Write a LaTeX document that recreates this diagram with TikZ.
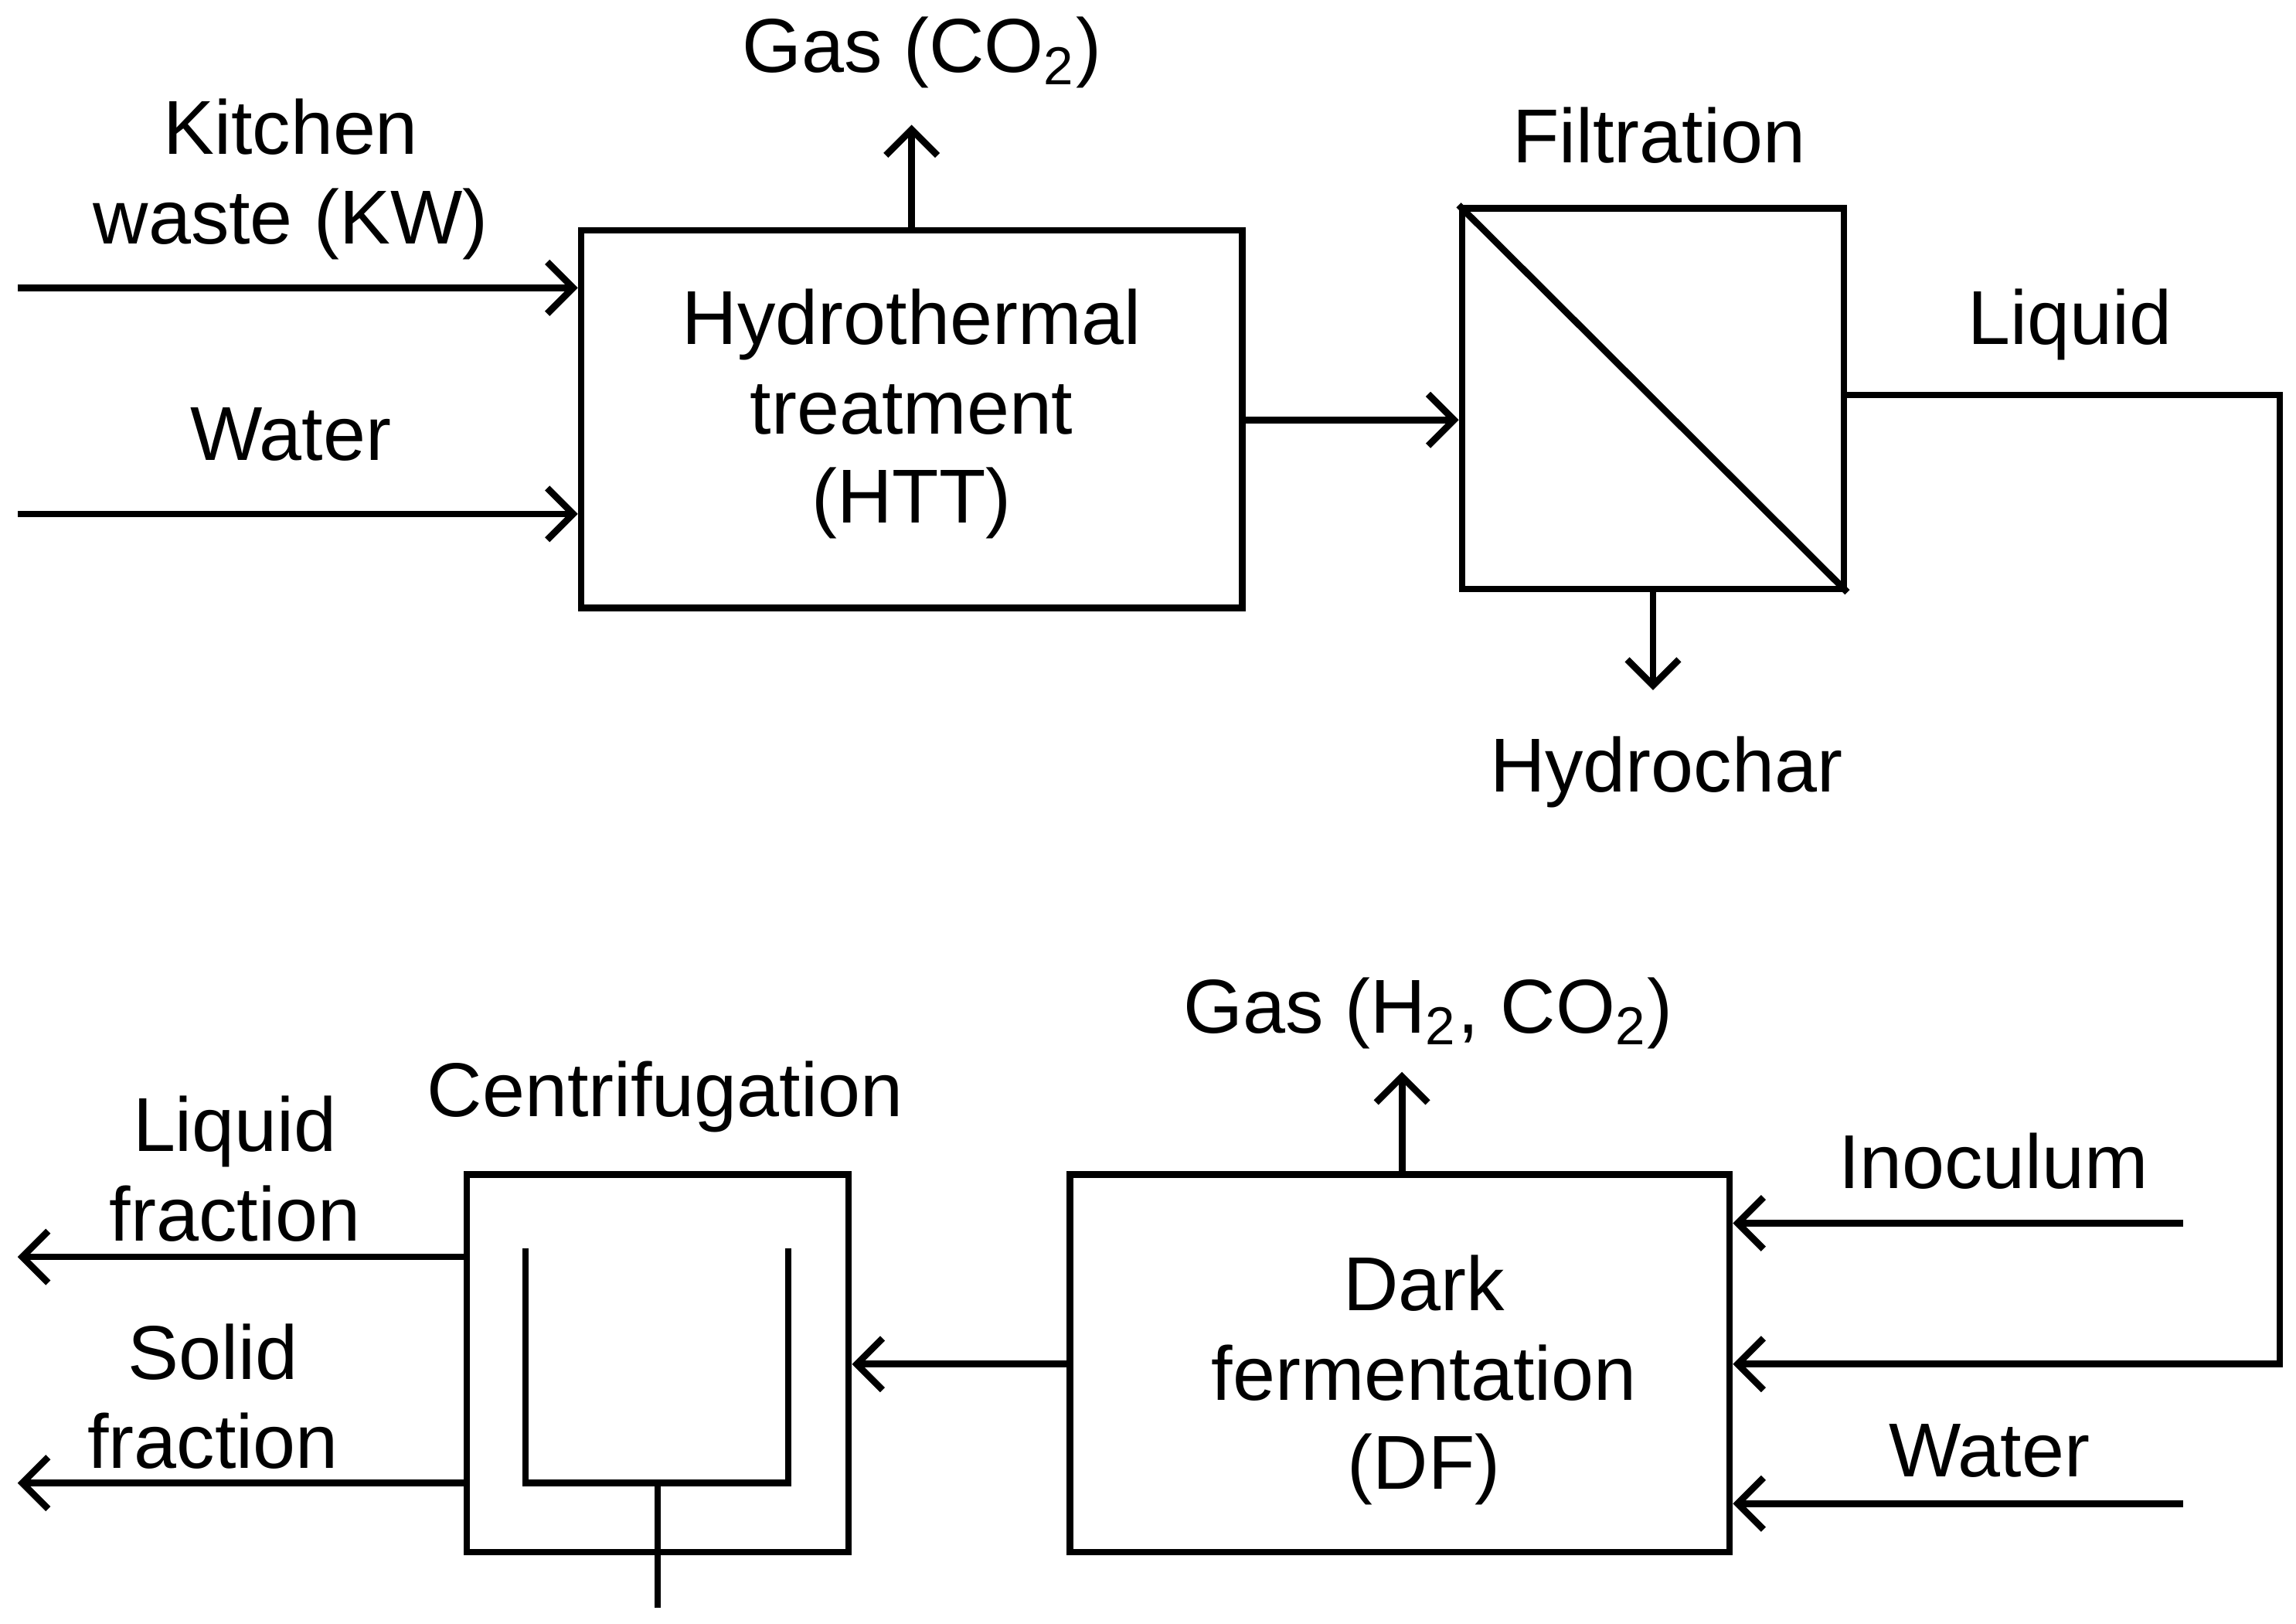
\documentclass[tikz,border=0pt]{standalone}
\usepackage{fontspec}
\setmainfont{Liberation Sans}
\usetikzlibrary{arrows.meta}
\begin{document}
\begin{tikzpicture}[x=0.01cm,y=-0.01cm,line width=1.3pt,
  box/.style={draw,inner sep=0pt,align=center},
  lbl/.style={align=center,font=\fontsize{14.8}{17.3}\selectfont,inner sep=0pt},
  arr/.style={-{Straight Barb[length=5pt,width=10pt]}}]
\useasboundingbox (0,0) rectangle (1564,1106);
\node[box,minimum width=4.5cm,minimum height=2.57cm] (htt) at (621,285.5) {};
\node[lbl] (httl) at (621,282) {Hydrothermal\\treatment\\(HTT)};
\node[box,minimum width=2.6cm,minimum height=2.59cm] (fil) at (1126,271.5) {};
\draw (fil.north west) -- (fil.south east);
\node[box,minimum width=4.49cm,minimum height=2.57cm] (df) at (953.5,928.5) {};
\node[lbl] (dfl) at (970,940) {Dark\\fermentation\\(DF)};
\node[box,minimum width=2.6cm,minimum height=2.57cm] (cen) at (448,928.5) {};
\coordinate (u1) at (358,850); \coordinate (u2) at (537,850);
\draw (u1) -- (358,1010) -- (537,1010) -- (u2);
\coordinate (st) at (448,1010); \coordinate (sb) at (448,1095);
\draw (st) -- (sb);
% labels
\node[lbl] (kwl) at (198,122) {Kitchen\\waste (KW)};
\node[lbl] (wl) at (198,296) {Water};
\node[lbl] (g1) at (628,36) {Gas (CO\textsubscript{2})};
\node[lbl] (fl) at (1130,92) {Filtration};
\node[lbl] (hl) at (1135,526) {Hydrochar};
\node[lbl] (ll) at (1410,221) {Liquid};
\node[lbl] (g2) at (973,690) {Gas (H\textsubscript{2}, CO\textsubscript{2})};
\node[lbl] (il) at (1358,791) {Inoculum};
\node[lbl] (w2) at (1355,988) {Water};
\node[lbl] (cl) at (453,747) {Centrifugation};
\node[lbl] (lf) at (160,796) {Liquid\\fraction};
\node[lbl] (sf) at (145,951) {Solid\\fraction};
% coordinates
\coordinate (a1) at (12,196); \coordinate (a2) at (12,350);
\coordinate (a3) at (621,85); \coordinate (a4) at (1126,470);
\coordinate (a5) at (1487,833); \coordinate (a6) at (1487,1024);
\coordinate (a7) at (955,730); \coordinate (a8) at (12,856); \coordinate (a9) at (12,1010);
% arrows
\draw[arr] (a1) -- (a1 -| htt.west);
\draw[arr] (a2) -- (a2 -| htt.west);
\draw[arr] (htt.north) -- (a3);
\draw[arr] (htt.east |- 0,286) -- (fil.west |- 0,286);
\draw[arr] (fil.south) -- (a4);
\draw[arr] (fil.east |- 0,269) -- (1553,269) -- (1553,929) -- (df.east |- 0,929);
\draw[arr] (a5) -- (a5 -| df.east);
\draw[arr] (a6) -- (a6 -| df.east);
\draw[arr] (df.north -| 955,0) -- (a7);
\draw[arr] (df.west |- 0,929) -- (cen.east |- 0,929);
\draw[arr] (cen.west |- a8) -- (a8);
\draw[arr] (cen.west |- a9) -- (a9);
\end{tikzpicture}
\end{document}
